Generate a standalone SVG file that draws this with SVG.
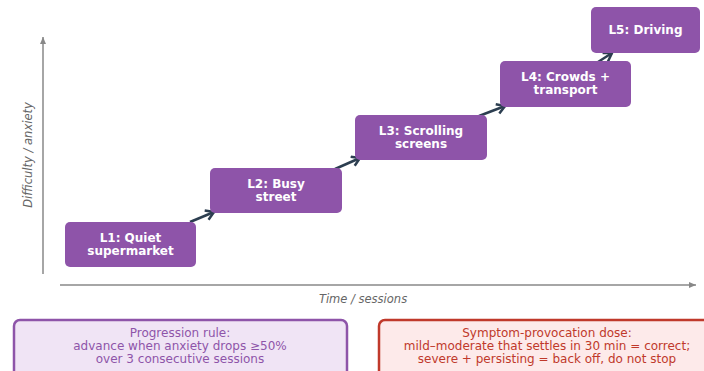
<svg xmlns="http://www.w3.org/2000/svg" width="704" height="371" viewBox="0 0 704 371">
<style>
.node rect{fill:#8e54a9;}
.node text{fill:#ffffff;font-family:"DejaVu Sans",sans-serif;font-weight:bold;font-size:12px;text-anchor:middle;}
.axis{stroke:#888888;stroke-width:1.5;fill:none;}
.axlabel{fill:#666666;font-family:"DejaVu Sans",sans-serif;font-style:italic;font-size:11.5px;text-anchor:middle;}
.conn{stroke:#2c3e50;stroke-width:2.5;fill:none;}
.note text{font-family:"DejaVu Sans",sans-serif;font-size:12px;text-anchor:middle;}
</style>
<defs>
<marker id="ah" markerUnits="userSpaceOnUse" markerWidth="14" markerHeight="14" refX="10" refY="6" orient="auto">
<path d="M2,1 L10,6 L2,11" fill="none" stroke="#2c3e50" stroke-width="2.5" stroke-linejoin="miter"/>
</marker>
<marker id="axh" markerUnits="userSpaceOnUse" markerWidth="10" markerHeight="10" refX="7" refY="4" orient="auto">
<path d="M0,1 L7,4 L0,7 Z" fill="#888888"/>
</marker>
</defs>
<rect width="704" height="371" fill="#ffffff"/>
<g id="axes">
<line class="axis" x1="43" y1="274" x2="43" y2="37" marker-end="url(#axh)"/>
<line class="axis" x1="60" y1="285" x2="696" y2="285" marker-end="url(#axh)"/>
<text class="axlabel" transform="translate(32,155) rotate(-90)">Difficulty / anxiety</text>
<text class="axlabel" x="363" y="303">Time / sessions</text>
</g>
<g id="connectors">
<line class="conn" x1="190" y1="222" x2="214" y2="212" marker-end="url(#ah)"/>
<line class="conn" x1="335" y1="169" x2="360" y2="158" marker-end="url(#ah)"/>
<line class="conn" x1="479" y1="116" x2="505" y2="106" marker-end="url(#ah)"/>
<line class="conn" x1="598" y1="62" x2="612" y2="53" marker-end="url(#ah)"/>
</g>
<g id="L1" class="node">
<rect x="65" y="222" width="131" height="45" rx="5"/>
<text x="130.5" y="241.5">L1: Quiet</text>
<text x="130.5" y="254.5">supermarket</text>
</g>
<g id="L2" class="node">
<rect x="210" y="168" width="132" height="45" rx="5"/>
<text x="276" y="188">L2: Busy</text>
<text x="276" y="201">street</text>
</g>
<g id="L3" class="node">
<rect x="355" y="115" width="132" height="45" rx="5"/>
<text x="421" y="134.5">L3: Scrolling</text>
<text x="421" y="147.5">screens</text>
</g>
<g id="L4" class="node">
<rect x="500" y="61" width="131" height="46" rx="5"/>
<text x="565.5" y="81">L4: Crowds +</text>
<text x="565.5" y="94">transport</text>
</g>
<g id="L5" class="node">
<rect x="591" y="7" width="109" height="46" rx="5"/>
<text x="645.5" y="34">L5: Driving</text>
</g>
<g id="rule" class="note">
<rect x="14" y="320" width="333" height="60" rx="6" fill="#f0e4f5" stroke="#8e54a9" stroke-width="2.5"/>
<text x="180" y="337" fill="#8e54a9">Progression rule:</text>
<text x="180" y="350" fill="#8e54a9">advance when anxiety drops ≥50%</text>
<text x="180" y="363" fill="#8e54a9">over 3 consecutive sessions</text>
</g>
<g id="dose" class="note">
<rect x="379" y="320" width="340" height="60" rx="6" fill="#fdeaea" stroke="#c0392b" stroke-width="2.5"/>
<text x="547" y="337" fill="#c0392b">Symptom-provocation dose:</text>
<text x="547" y="350" fill="#c0392b">mild–moderate that settles in 30 min = correct;</text>
<text x="547" y="363" fill="#c0392b">severe + persisting = back off, do not stop</text>
</g>
</svg>
